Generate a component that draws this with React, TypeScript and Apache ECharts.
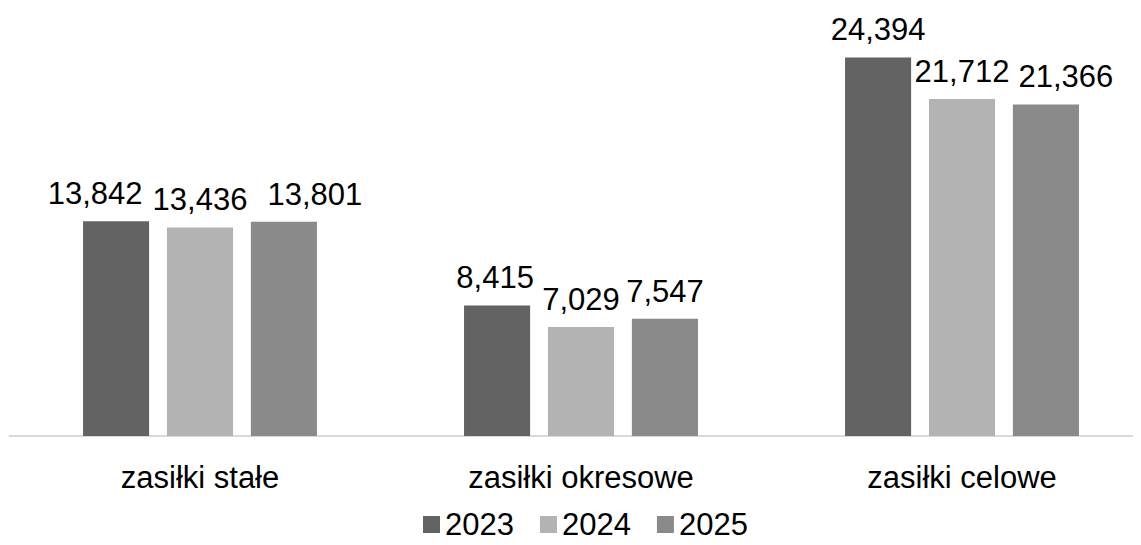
import React, { useEffect, useRef } from "react";
import * as echarts from "echarts";

const categories = ["zasiłki stałe", "zasiłki okresowe", "zasiłki celowe"];
const seriesNames = ["2023", "2024", "2025"];
const values2023 = [13842, 8415, 24394];
const values2024 = [13436, 7029, 21712];
const values2025 = [13801, 7547, 21366];
const colors = ["#636363", "#b3b3b3", "#8a8a8a"];
// horizontal nudges of data labels (px) to avoid overlaps, as in the reference
const labelShift2023 = [-21, -2, 0];
const labelShift2024 = [0, 0, 0];
const labelShift2025 = [31, 0, 20];

const fmt = (v: number) => v.toLocaleString("en-US");

export default function App() {
  const ref = useRef<HTMLDivElement>(null);
  useEffect(() => {
    if (!ref.current) return;
    const chart = echarts.init(ref.current, null, { renderer: "svg" });
    const font = "Liberation Sans, Arial, sans-serif";
    const data = [values2023, values2024, values2025];
    const shifts = [labelShift2023, labelShift2024, labelShift2025];
    chart.setOption({
      animation: false,
      textStyle: { fontFamily: font },
      grid: {
        left: 9.5,
        width: 1143,
        top: 48,
        bottom: 109,
        containLabel: false,
        outerBoundsMode: "none",
      },
      legend: {
        data: seriesNames,
        top: 504,
        left: 418,
        icon: "rect",
        itemWidth: 17,
        itemHeight: 17,
        itemGap: 26,
        textStyle: { fontSize: 31, color: "#000", fontFamily: font },
      },
      xAxis: {
        type: "category",
        data: categories,
        axisTick: { show: false },
        axisLine: { lineStyle: { color: "#d9d9d9", width: 2 } },
        axisLabel: { fontSize: 31, color: "#000", margin: 26, fontFamily: font },
      },
      yAxis: {
        type: "value",
        min: 0,
        max: 25000,
        show: false,
        splitLine: { show: false },
      },
      series: seriesNames.map((name, i) => ({
        name,
        type: "bar",
        data: data[i].map((v, j) => ({
          value: v,
          label: { offset: [shifts[i][j], 0] },
        })),
        itemStyle: { color: colors[i] },
        barGap: "27%",
        barCategoryGap: "38.6%",
        label: {
          show: true,
          position: "top",
          distance: 12,
          fontSize: 31,
          color: "#000",
          fontFamily: font,
          formatter: (p: any) => fmt(p.value),
        },
      })),
    });
    return () => chart.dispose();
  }, []);
  return <div ref={ref} style={{ width: 1141, height: 545, margin: -8 }} />;
}
